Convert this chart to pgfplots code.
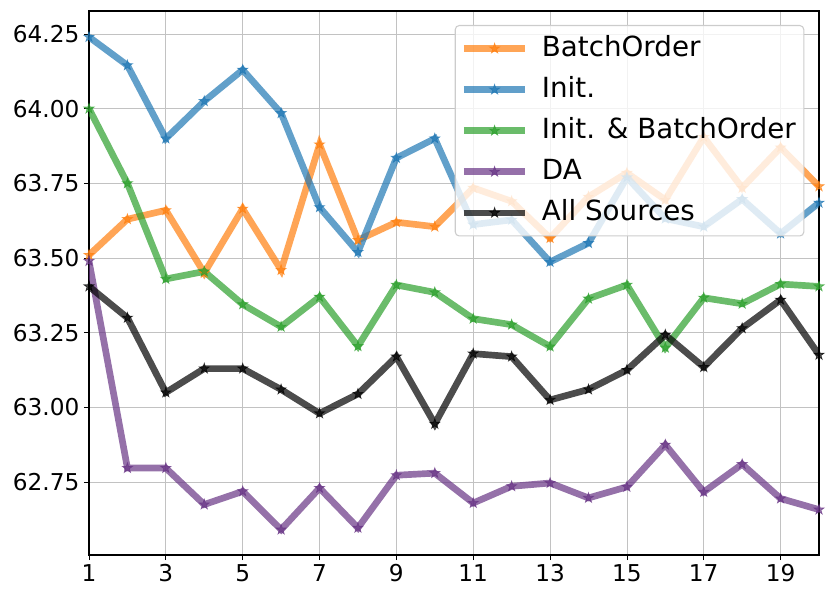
\documentclass[border=0pt]{standalone}
\usepackage{pgfplots}
\pgfplotsset{compat=1.18}
\usepackage{fontspec}
\setmainfont{DejaVu Sans}

\definecolor{tabblue}{HTML}{1F77B4}
\definecolor{taborange}{HTML}{FF7F0E}
\definecolor{tabgreen}{HTML}{2CA02C}
\definecolor{tabpurple}{HTML}{683485}

\pgfdeclareplotmark{fstar}{%
  \pgfpathmoveto{\pgfpointpolar{90}{\pgfplotmarksize}}%
  \pgfpathlineto{\pgfpointpolar{126}{0.382\pgfplotmarksize}}%
  \pgfpathlineto{\pgfpointpolar{162}{\pgfplotmarksize}}%
  \pgfpathlineto{\pgfpointpolar{198}{0.382\pgfplotmarksize}}%
  \pgfpathlineto{\pgfpointpolar{234}{\pgfplotmarksize}}%
  \pgfpathlineto{\pgfpointpolar{270}{0.382\pgfplotmarksize}}%
  \pgfpathlineto{\pgfpointpolar{306}{\pgfplotmarksize}}%
  \pgfpathlineto{\pgfpointpolar{342}{0.382\pgfplotmarksize}}%
  \pgfpathlineto{\pgfpointpolar{18}{\pgfplotmarksize}}%
  \pgfpathlineto{\pgfpointpolar{54}{0.382\pgfplotmarksize}}%
  \pgfpathclose
  \pgfusepathqfillstroke}

\begin{document}
\begin{tikzpicture}
\begin{axis}[
  name=ax,
  at={(0,0)}, anchor=south west,
  scale only axis,
  width=547.5pt, height=408pt,
  xmin=1, xmax=20, ymin=62.506, ymax=64.327,
  xtick={1,3,...,19},
  ytick={62.75,63.00,63.25,63.50,63.75,64.00,64.25},
  yticklabel style={/pgf/number format/.cd,fixed,fixed zerofill,precision=2},
  /pgf/number format/assume math mode=true,
  ticklabel style={font=\fontsize{17.4}{20}\selectfont},
  tick align=outside,
  major tick length=3.75pt,
  tick style={black, line width=0.6pt},
  xtick pos=bottom, ytick pos=left,
  axis line style={black, line width=0.9pt},
  grid=major,
  major grid style={color=black!24, line width=0.55pt},
  every axis plot/.append style={line width=5pt, opacity=0.7, mark=fstar, mark size=4pt,
    mark options={solid, line width=0.5pt}},
  legend cell align=left,
  legend image code/.code={\draw[mark repeat=2,mark phase=2] plot coordinates {(0pt,0pt)(23pt,0pt)(46pt,0pt)};},
  legend style={at={(axis description cs:1,1)}, anchor=north east, xshift=-11pt, yshift=-10.5pt,
    font=\fontsize{20.8}{25}\selectfont, draw=black!20, line width=0.8pt, rounded corners=3pt,
    fill=white, fill opacity=0.8, text opacity=1, inner xsep=4pt, inner ysep=5pt,
    row sep=6.2pt,
    /tikz/every odd column/.append style={column sep=8pt},
    nodes={inner sep=2pt, text height=16pt, text depth=4.6pt}},
]
\addplot[color=taborange] coordinates {
(1,63.51) (2,63.63) (3,63.66) (4,63.45) (5,63.665) (6,63.46) (7,63.88) (8,63.56) (9,63.62) (10,63.605)
(11,63.735) (12,63.69) (13,63.567) (14,63.705) (15,63.785) (16,63.695) (17,63.905) (18,63.735) (19,63.87) (20,63.74)};
\addlegendentry{BatchOrder}
\addplot[color=tabblue] coordinates {
(1,64.24) (2,64.145) (3,63.90) (4,64.025) (5,64.13) (6,63.985) (7,63.67) (8,63.52) (9,63.835) (10,63.90)
(11,63.612) (12,63.628) (13,63.487) (14,63.55) (15,63.77) (16,63.632) (17,63.605) (18,63.697) (19,63.582) (20,63.685)};
\addlegendentry{Init.}
\addplot[color=tabgreen] coordinates {
(1,64.00) (2,63.75) (3,63.43) (4,63.455) (5,63.345) (6,63.27) (7,63.37) (8,63.205) (9,63.41) (10,63.385)
(11,63.297) (12,63.277) (13,63.204) (14,63.364) (15,63.41) (16,63.20) (17,63.367) (18,63.347) (19,63.413) (20,63.405)};
\addlegendentry{Init. \& BatchOrder}
\addplot[color=tabpurple] coordinates {
(1,63.49) (2,62.797) (3,62.797) (4,62.675) (5,62.719) (6,62.591) (7,62.73) (8,62.597) (9,62.773) (10,62.78)
(11,62.68) (12,62.736) (13,62.747) (14,62.697) (15,62.734) (16,62.875) (17,62.717) (18,62.81) (19,62.695) (20,62.658)};
\addlegendentry{DA}
\addplot[color=black] coordinates {
(1,63.405) (2,63.30) (3,63.05) (4,63.13) (5,63.13) (6,63.06) (7,62.98) (8,63.045) (9,63.17) (10,62.945)
(11,63.18) (12,63.17) (13,63.025) (14,63.06) (15,63.125) (16,63.243) (17,63.135) (18,63.265) (19,63.36) (20,63.176)};
\addlegendentry{All Sources}
\end{axis}
\pgfresetboundingbox
\path[use as bounding box] ([shift={(-66.75pt,-34.5pt)}]ax.south west) rectangle ([shift={(8.25pt,8.25pt)}]ax.north east);
\end{tikzpicture}
\end{document}
